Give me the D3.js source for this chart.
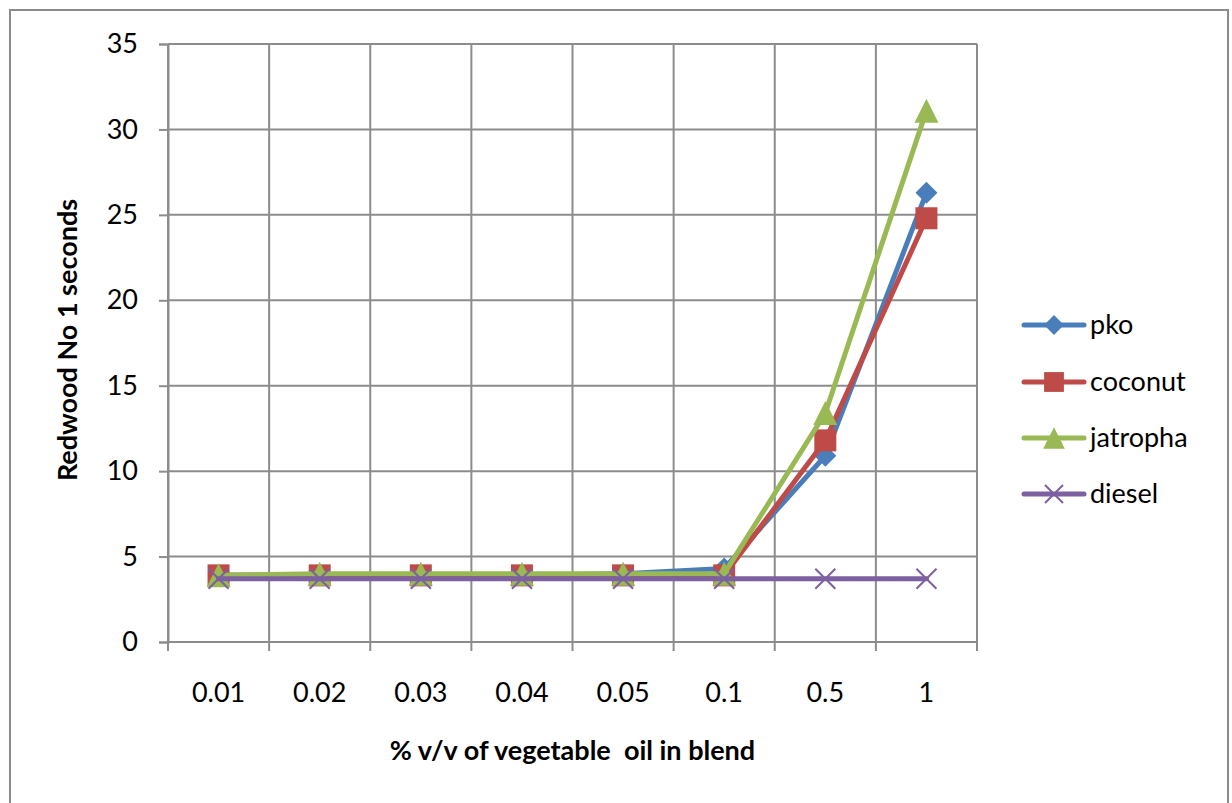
<!DOCTYPE html>
<html>
<head>
<meta charset="utf-8">
<script src="https://cdn.jsdelivr.net/npm/d3@7"></script>
<style>
  html, body { margin: 0; padding: 0; background: #fff; }
  svg { display: block; }
  text { font-family: Lato, "Open Sans", sans-serif; fill: #000; }
</style>
</head>
<body>
<svg id="chart" width="1232" height="803"></svg>
<script>
// Blend fractions (% v/v of vegetable oil)
const categories = ["0.01", "0.02", "0.03", "0.04", "0.05", "0.1", "0.5", "1"];

// Redwood No 1 viscosity, seconds
const pko      = [3.9, 3.9, 3.9, 3.9, 4.0, 4.3, 10.9, 26.3];
const coconut  = [3.9, 3.9, 3.9, 3.9, 3.9, 3.9, 11.8, 24.8];
const jatropha = [3.9, 4.0, 4.0, 4.0, 4.0, 4.0, 13.4, 31.1];
const diesel   = [3.7, 3.7, 3.7, 3.7, 3.7, 3.7, 3.7, 3.7];

const yTicks = [0, 5, 10, 15, 20, 25, 30, 35];

const seriesNames = ["pko", "coconut", "jatropha", "diesel"];
const seriesColors = ["#4a7ebb", "#be4b48", "#98b954", "#7d60a0"];
const seriesSymbols = ["diamond", "square", "triangle", "cross"];
const seriesData = [pko, coconut, jatropha, diesel];

const fontSize = "27px";

const svg = d3.select("#chart");

// Outer chart frame
svg.append("rect")
  .attr("x", 10).attr("y", 10)
  .attr("width", 1218).attr("height", 810)
  .attr("fill", "none").attr("stroke", "#8c8c8c").attr("stroke-width", 2);

const plot = { left: 168, top: 44, right: 977, bottom: 642 };

const x = d3.scaleBand()
  .domain(categories)
  .range([plot.left, plot.right])
  .paddingInner(0).paddingOuter(0);

const y = d3.scaleLinear()
  .domain([0, 35])
  .range([plot.bottom, plot.top]);

const gridColor = "#8c8c8c";

// Horizontal gridlines
svg.append("g")
  .selectAll("line")
  .data(yTicks)
  .join("line")
  .attr("x1", plot.left).attr("x2", plot.right)
  .attr("y1", d => y(d)).attr("y2", d => y(d))
  .attr("stroke", gridColor).attr("stroke-width", 2);

// Vertical gridlines at category boundaries
const boundaries = categories.map(c => x(c)).concat([x(categories[categories.length - 1]) + x.bandwidth()]);
svg.append("g")
  .selectAll("line")
  .data(boundaries)
  .join("line")
  .attr("x1", d => d).attr("x2", d => d)
  .attr("y1", plot.top).attr("y2", plot.bottom)
  .attr("stroke", gridColor).attr("stroke-width", 2);

// Y axis
const yAxis = svg.append("g")
  .attr("transform", `translate(${plot.left},0)`)
  .call(d3.axisLeft(y).tickValues(yTicks).tickSize(9).tickPadding(21));
yAxis.select(".domain").attr("stroke", gridColor).attr("stroke-width", 2);
yAxis.selectAll(".tick line").attr("stroke", gridColor).attr("stroke-width", 2);
yAxis.selectAll("text")
  .style("font-family", "Lato, sans-serif")
  .style("font-size", fontSize).attr("fill", "#000");

// X axis: tick marks at band boundaries, labels centred in bands
const xAxisG = svg.append("g")
  .attr("transform", `translate(0,${plot.bottom})`);
xAxisG.append("line")
  .attr("x1", plot.left).attr("x2", plot.right)
  .attr("y1", 0).attr("y2", 0)
  .attr("stroke", gridColor).attr("stroke-width", 2);
xAxisG.selectAll("line.tk")
  .data(boundaries)
  .join("line")
  .attr("class", "tk")
  .attr("x1", d => d).attr("x2", d => d)
  .attr("y1", 0).attr("y2", 9)
  .attr("stroke", gridColor).attr("stroke-width", 2);
xAxisG.selectAll("text")
  .data(categories)
  .join("text")
  .attr("x", d => x(d) + x.bandwidth() / 2)
  .attr("y", 60)
  .attr("text-anchor", "middle")
  .style("font-size", fontSize)
  .text(d => d);

// Axis titles
svg.append("text")
  .attr("x", (plot.left + plot.right) / 2)
  .attr("y", 760)
  .attr("text-anchor", "middle")
  .style("font-size", fontSize).style("font-weight", "bold")
  .style("white-space", "pre")
  .attr("xml:space", "preserve")
  .text("% v/v of vegetable  oil in blend");

svg.append("text")
  .attr("transform", `translate(77,${(plot.top + plot.bottom) / 2 - 3}) rotate(-90)`)
  .attr("text-anchor", "middle")
  .style("font-size", fontSize).style("font-weight", "bold")
  .text("Redwood No 1 seconds");

// Marker drawing helper
function drawMarker(g, type, color, cx, cy, scale) {
  const s = scale || 1;
  if (type === "diamond") {
    const r = 11 * s;
    g.append("path")
      .attr("d", `M${cx},${cy - r}L${cx + r},${cy}L${cx},${cy + r}L${cx - r},${cy}Z`)
      .attr("fill", color);
  } else if (type === "square") {
    const h = 11 * s;
    g.append("rect")
      .attr("x", cx - h).attr("y", cy - h)
      .attr("width", 2 * h).attr("height", 2 * h)
      .attr("fill", color);
  } else if (type === "triangle") {
    const w = 12 * s, ht = 12 * s;
    g.append("path")
      .attr("d", `M${cx},${cy - ht}L${cx + w},${cy + ht}L${cx - w},${cy + ht}Z`)
      .attr("fill", color);
  } else if (type === "cross") {
    const r = 10 * s;
    g.append("path")
      .attr("d", `M${cx - r},${cy - r}L${cx + r},${cy + r}M${cx - r},${cy + r}L${cx + r},${cy - r}`)
      .attr("stroke", color).attr("stroke-width", 2).attr("fill", "none");
  }
}

// Series lines and markers
const line = d3.line()
  .x((d, i) => x(categories[i]) + x.bandwidth() / 2)
  .y(d => y(d));

seriesData.forEach((vals, k) => {
  const g = svg.append("g");
  g.append("path")
    .datum(vals)
    .attr("d", line)
    .attr("fill", "none")
    .attr("stroke", seriesColors[k])
    .attr("stroke-width", 5)
    .attr("stroke-linejoin", "round")
    .attr("stroke-linecap", "round");
  vals.forEach((v, i) => {
    drawMarker(g, seriesSymbols[k], seriesColors[k], x(categories[i]) + x.bandwidth() / 2, y(v));
  });
});

// Legend
const legendRows = [325, 382, 438, 494];
seriesNames.forEach((name, k) => {
  const g = svg.append("g");
  const ly = legendRows[k];
  g.append("line")
    .attr("x1", 1024).attr("x2", 1084)
    .attr("y1", ly).attr("y2", ly)
    .attr("stroke", seriesColors[k]).attr("stroke-width", 5)
    .attr("stroke-linecap", "round");
  drawMarker(g, seriesSymbols[k], seriesColors[k], 1054, ly, 0.9);
  g.append("text")
    .attr("x", 1090).attr("y", ly + 9)
    .style("font-size", fontSize)
    .text(name);
});
</script>
</body>
</html>
